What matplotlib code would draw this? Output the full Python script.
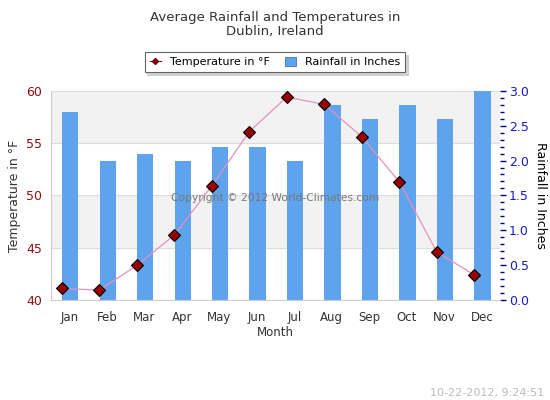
import numpy as np
import matplotlib.pyplot as plt
from matplotlib.lines import Line2D
from matplotlib.patches import Patch

months = ['Jan', 'Feb', 'Mar', 'Apr', 'May', 'Jun',
          'Jul', 'Aug', 'Sep', 'Oct', 'Nov', 'Dec']
temp_f = [41.1, 40.95, 43.3, 46.2, 50.9, 56.1, 59.4, 58.7, 55.6, 51.3, 44.6, 42.4]
rain_in = [2.7, 2.0, 2.1, 2.0, 2.2, 2.2, 2.0, 2.8, 2.6, 2.8, 2.6, 3.0]

tmin, tmax = 40, 60
rmin, rmax = 0.0, 3.0

def t2r(t):
    return (t - tmin) / (tmax - tmin) * (rmax - rmin)

fig = plt.figure(figsize=(5.5, 4), dpi=100)
ax = fig.add_axes([0.092, 0.25, 0.818, 0.523])
ax2 = ax.twinx()
ax.set_zorder(ax2.get_zorder() + 1)
ax.patch.set_visible(False)

x = np.arange(len(months))

# background bands and grid on the lower axes so bars cover them
ax2.set_facecolor('white')
for lo, hi in [(55, 60), (45, 50)]:
    ax2.axhspan(t2r(lo), t2r(hi), color='#f2f2f2', zorder=0, lw=0)
for g in [45, 50, 55, 60]:
    ax2.axhline(t2r(g), color='#dcdcdc', lw=0.8, zorder=0.5)

ax2.bar(x + 0.02, rain_in, width=0.43, color='#5ea3ec', zorder=2)

ax.plot(x - 0.2, temp_f, color='#e890c0', lw=0.9, zorder=3)
ax.plot(x - 0.2, temp_f, ls='none', marker='D', ms=6, mfc='#990000',
        mec='black', mew=0.8, zorder=4)

ax.set_xlim(-0.5, len(months) - 0.5)
ax.set_ylim(tmin, tmax)
ax2.set_ylim(rmin, rmax)

ax.set_xticks(x)
ax.set_xticklabels(months, fontsize=8.5, color='#333333')
ax.set_yticks([40, 45, 50, 55, 60])
ax.tick_params(axis='y', length=0, pad=6, labelsize=9, labelcolor='#8b1010')
ax.tick_params(axis='x', length=0, pad=8)

ax2.set_yticks(np.arange(0, 3.01, 0.5))
ax2.set_yticklabels(['%.1f' % v for v in np.arange(0, 3.01, 0.5)])
ax2.set_yticks(np.arange(0, 3.01, 0.1), minor=True)
ax2.tick_params(axis='y', which='major', length=4, width=1, color='#000080',
                labelcolor='#1a1acc', labelsize=9, pad=2)
ax2.tick_params(axis='y', which='minor', length=3, width=1, color='#000080')

for a in (ax, ax2):
    for s in a.spines.values():
        s.set_visible(False)
ax2.spines['left'].set_visible(True)
ax2.spines['left'].set_color('#cccccc')
ax2.spines['bottom'].set_visible(True)
ax2.spines['bottom'].set_color('#cccccc')

ax.set_xlabel('Month', fontsize=8.5, color='#333333', labelpad=1)
ax.set_ylabel('Temperature in °F', fontsize=9, color='#333333', labelpad=4)
ax2.set_ylabel('Rainfall in Inches', fontsize=9, color='#000000',
               rotation=270, labelpad=13)

fig.text(0.5, 0.972, 'Average Rainfall and Temperatures in\nDublin, Ireland',
         ha='center', va='top', fontsize=9.5, color='#333333', linespacing=1.1)

fig.text(0.5, 0.505, 'Copyright © 2012 World-Climates.com', ha='center',
         va='center', fontsize=7.7, color='#777777', zorder=10)

fig.text(0.99, 0.005, '10-22-2012, 9:24:51', ha='right', va='bottom',
         fontsize=8, color='#bbbbbb')

handles = [
    Line2D([0], [0], color='#990040', lw=0.8, marker='D', ms=3,
           mfc='#990000', mec='#660000'),
    Patch(facecolor='#5ea3ec', edgecolor='#3a78c0', lw=0.6),
]
leg = fig.legend(handles, ['Temperature in °F', 'Rainfall in Inches'],
                 loc='center', bbox_to_anchor=(0.5, 0.844), ncol=2,
                 fontsize=8, frameon=True, fancybox=False,
                 shadow={'color': '#d0d0d0', 'alpha': 1.0, 'ox': 2, 'oy': -2},
                 handlelength=1.0, handleheight=0.8, columnspacing=1.4,
                 borderpad=0.45, handletextpad=0.8)
leg.get_frame().set_edgecolor('#666666')
leg.get_frame().set_linewidth(0.8)

fig.savefig('out.png', dpi=100)
